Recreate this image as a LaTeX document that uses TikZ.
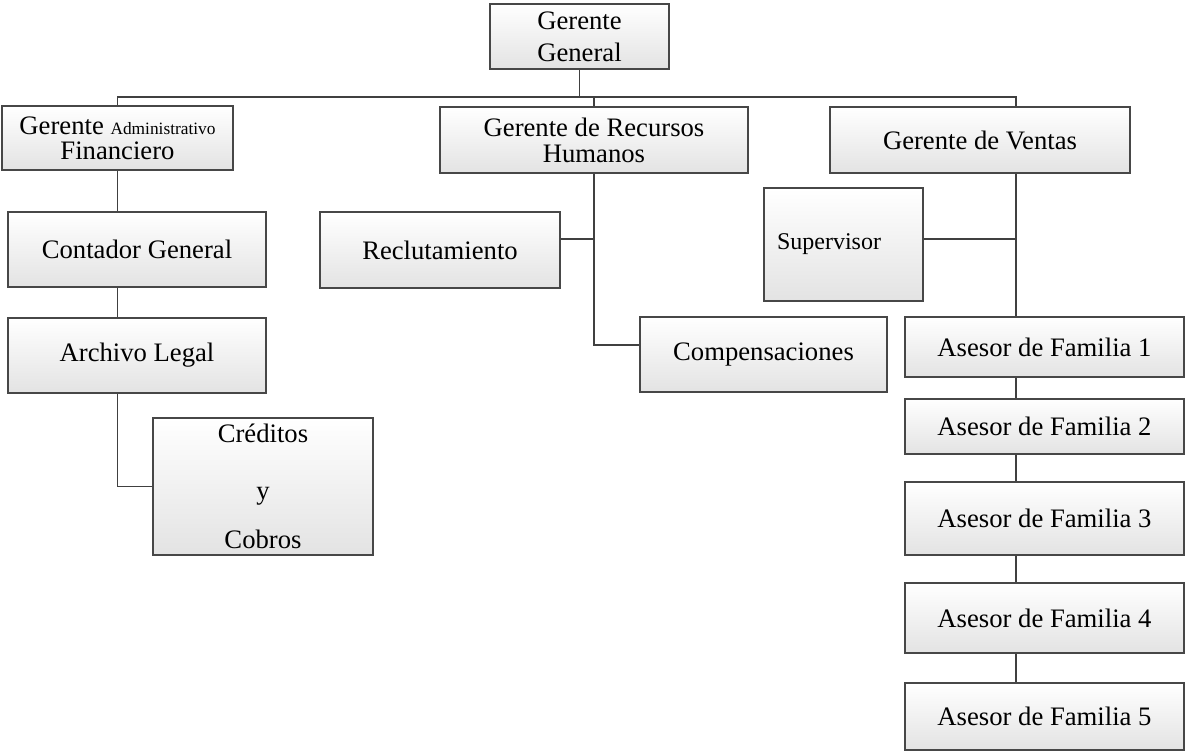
\documentclass[tikz,border=0pt]{standalone}
\usepackage{fontspec}
\setmainfont{Liberation Serif}
\usetikzlibrary{shadows}
\tikzset{
  box/.style={rectangle, draw=black!72, line width=1.3pt, top color=white, bottom color=black!11,
    inner sep=0pt, align=center, text=black, font=\fontsize{20}{24}\selectfont,
    drop shadow={opacity=0.22, shadow xshift=1pt, shadow yshift=-1pt}},
  conn/.style={draw=black!75, line width=1.4pt},
}
\newcommand\orgbox[7]{%
  \node[box, minimum width={(#3-#2)*0.75pt}, minimum height={(#5-#4)*0.75pt}, #7]
    (#1) at ({(#2+#3)/2},{(#4+#5)/2}) {#6};}
\begin{document}
\begin{tikzpicture}[x=0.75pt,y=-0.75pt]
\useasboundingbox (0,0) rectangle (1185,751);
% boxes
\orgbox{GG}{490}{669}{4}{69}{Gerente\\General}{}
\orgbox{GAF}{2}{233}{106}{170}{Gerente {\fontsize{13}{15}\selectfont Administrativo}\\Financiero}{font=\fontsize{20}{19}\selectfont}
\orgbox{GRH}{440}{748}{107}{173}{Gerente de Recursos\\Humanos}{font=\fontsize{20}{19.5}\selectfont}
\orgbox{GV}{830}{1130}{107}{173}{Gerente de Ventas}{}
\orgbox{Cont}{8}{266}{212}{287}{Contador General}{}
\orgbox{Arch}{8}{266}{318}{393}{Archivo Legal}{}
\orgbox{Cred}{153}{373}{418}{555}{Créditos\\[19pt]y\\[13pt]Cobros}{}
\orgbox{Recl}{320}{560}{212}{288}{Reclutamiento}{}
\orgbox{Comp}{640}{887}{317}{392}{Compensaciones}{}
\orgbox{Sup}{764}{923}{188}{301}{Supervisor\\[8pt]}{font=\fontsize{18}{20}\selectfont, text width={(923-764-26)*0.75pt}, align=left}
\orgbox{A1}{905}{1184}{317}{377}{Asesor de Familia 1}{}
\orgbox{A2}{905}{1184}{399}{454}{Asesor de Familia 2}{}
\orgbox{A3}{905}{1184}{482}{555}{Asesor de Familia 3}{}
\orgbox{A4}{905}{1184}{583}{653}{Asesor de Familia 4}{}
\orgbox{A5}{905}{1184}{683}{750}{Asesor de Familia 5}{}
% helper coordinates
\coordinate (busL) at (117.5,97);
\coordinate (busR) at (1016,97);
\coordinate (rb) at (594,239);
\coordinate (cb) at (594,345);
\coordinate (sb) at (1016,239);
% connectors
\draw[conn] (GAF.north) -- (busL) -- (busR) -- (busR |- GV.north);
\draw[conn] (GG.south) -- (GG.south |- busL);
\draw[conn] (GRH.north) -- (GRH.north |- busL);
\draw[conn] (GAF.south) -- (GAF.south |- Cont.north);
\draw[conn] (GAF.south |- Cont.south) -- (GAF.south |- Arch.north);
\draw[conn] (GAF.south |- Arch.south) |- (Cred.west);
\draw[conn] (GRH.south) -- (cb) -- (Comp.west |- cb);
\draw[conn] (Recl.east |- rb) -- (rb);
\draw[conn] (busR |- GV.south) -- (busR |- A1.north);
\draw[conn] (Sup.east |- sb) -- (sb);
\draw[conn] (busR |- A1.south) -- (busR |- A2.north);
\draw[conn] (busR |- A2.south) -- (busR |- A3.north);
\draw[conn] (busR |- A3.south) -- (busR |- A4.north);
\draw[conn] (busR |- A4.south) -- (busR |- A5.north);
\end{tikzpicture}
\end{document}
